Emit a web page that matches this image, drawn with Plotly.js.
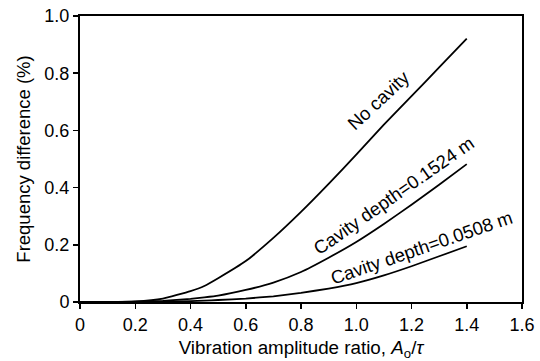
<!DOCTYPE html>
<html>
<head>
<meta charset="utf-8">
<script src="https://cdn.plot.ly/plotly-3.0.1.min.js"></script>
<style>html,body{margin:0;padding:0;background:#fff;}#chart{width:540px;height:361px;}</style>
</head>
<body>
<div id="chart"></div>
<script>
var amplitudeRatio = [0, 0.1, 0.2, 0.3, 0.4, 0.45, 0.5, 0.6, 0.7, 0.8, 0.9, 1.0, 1.1, 1.2, 1.3, 1.4];
var noCavity      = [0, 0, 0.002, 0.012, 0.038, 0.056, 0.083, 0.143, 0.224, 0.315, 0.413, 0.515, 0.62, 0.72, 0.82, 0.921];
var cavity01524   = [0, 0, 0.001, 0.004, 0.011, 0.016, 0.022, 0.042, 0.068, 0.105, 0.155, 0.21, 0.273, 0.34, 0.41, 0.482];
var cavity00508   = [0, 0, 0, 0.001, 0.003, 0.005, 0.007, 0.012, 0.02, 0.032, 0.047, 0.066, 0.093, 0.125, 0.16, 0.195];
var seriesNames   = ['No cavity', 'Cavity depth=0.1524 m', 'Cavity depth=0.0508 m'];
var xTickVals = [0, 0.2, 0.4, 0.6, 0.8, 1.0, 1.2, 1.4, 1.6];
var xTickText = ['0', '0.2', '0.4', '0.6', '0.8', '1.0', '1.2', '1.4', '1.6'];
var yTickVals = [0, 0.2, 0.4, 0.6, 0.8, 1.0];
var yTickText = ['0', '0.2', '0.4', '0.6', '0.8', '1.0'];

var FONT = 'Arial, "Liberation Sans", sans-serif';
var series = [noCavity, cavity01524, cavity00508];
var traces = series.map(function (ys, i) {
  return {x: amplitudeRatio, y: ys, name: seriesNames[i], mode: 'lines', type: 'scatter',
          line: {color: '#000', width: 1.8, shape: 'spline', smoothing: 0.4}, hoverinfo: 'skip'};
});

var labelPos = [
  {x: 1.079, y: 0.706, a: -43},
  {x: 1.135, y: 0.374, a: -35},
  {x: 1.237, y: 0.192, a: -19}
];
var annotations = seriesNames.map(function (n, i) {
  return {x: labelPos[i].x, y: labelPos[i].y, xref: 'x', yref: 'y', text: n, showarrow: false,
          textangle: labelPos[i].a, font: {family: FONT, size: 18.5, color: '#000'}};
});

var layout = {
  width: 540, height: 361,
  margin: {l: 80.3, r: 18.3, t: 15.7, b: 58.7},
  paper_bgcolor: '#fff', plot_bgcolor: '#fff',
  showlegend: false,
  font: {family: FONT, size: 18, color: '#000'},
  xaxis: {range: [0, 1.6], tickvals: xTickVals, ticktext: xTickText, ticks: 'outside', ticklen: 5,
          tickwidth: 1.5, tickcolor: '#000', showline: true, linecolor: '#000', linewidth: 2, mirror: true,
          showgrid: false, zeroline: false, tickfont: {family: FONT, size: 18},
          title: {text: 'Vibration amplitude ratio, <i>A</i><sub>o</sub>/<i>τ</i>', font: {family: FONT, size: 18.8}, standoff: 8}},
  yaxis: {range: [0, 1.0], tickvals: yTickVals, ticktext: yTickText, ticks: 'outside', ticklen: 5,
          tickwidth: 1.5, tickcolor: '#000', showline: true, linecolor: '#000', linewidth: 2, mirror: true,
          showgrid: false, zeroline: false, tickfont: {family: FONT, size: 18},
          title: {text: 'Frequency difference (%)', font: {family: FONT, size: 18.5}, standoff: 9}},
  annotations: annotations
};

Plotly.newPlot('chart', traces, layout, {staticPlot: true, displayModeBar: false});
</script>
</body>
</html>
